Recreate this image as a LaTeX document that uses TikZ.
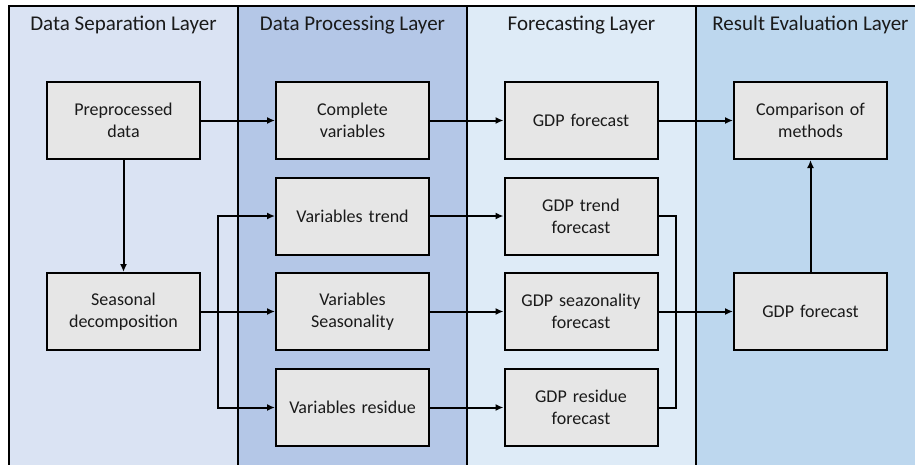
\documentclass[tikz,border=0pt]{standalone}
\usepackage{fontspec}
\setmainfont{Carlito}
\usetikzlibrary{arrows.meta}
\definecolor{colA}{HTML}{DAE3F3}
\definecolor{colB}{HTML}{B4C7E7}
\definecolor{colC}{HTML}{DEEBF7}
\definecolor{colD}{HTML}{BDD7EE}
\definecolor{boxfill}{HTML}{E6E6E6}
\definecolor{txt}{HTML}{1A1A1A}
\tikzset{
  box/.style={draw=black, line width=2pt, fill=boxfill, minimum width=153pt, minimum height=77pt,
    inner sep=0pt, align=center, text width=150pt, font=\fontsize{18}{22}\selectfont, text=txt},
  lane/.style={draw=black, line width=2pt},
  title/.style={font=\fontsize{21}{25}\selectfont, text=txt, anchor=center},
  conn/.style={line width=2pt, -{Latex[length=8pt,width=7pt]}},
  plain/.style={line width=2pt}
}
\begin{document}
\begin{tikzpicture}[x=1pt,y=-1pt]
\useasboundingbox (0,0) rectangle (915,464);
% lanes
\begin{scope}
\clip (0,0) rectangle (915,464);
\fill[colA] (9,6) rectangle (238,470);
\fill[colB] (238,6) rectangle (467,470);
\fill[colC] (467,6) rectangle (696,470);
\fill[colD] (696,6) rectangle (920,470);
\draw[lane] (9,470) -- (9,6) -- (920,6);
\draw[lane] (238,6) -- (238,470);
\draw[lane] (467,6) -- (467,470);
\draw[lane] (696,6) -- (696,470);
\end{scope}
\node[title] (t1) at (123.5,25) {Data Separation Layer};
\node[title] (t2) at (352.5,25) {Data Processing Layer};
\node[title] (t3) at (581.5,25) {Forecasting Layer};
\node[title] (t4) at (810.5,25) {Result Evaluation Layer};
% boxes
\node[box] (pre) at (123.5,120.5) {Preprocessed\\data};
\node[box] (sea) at (123.5,311.5) {Seasonal\\decomposition};
\node[box] (cv) at (352.5,120.5) {Complete\\variables};
\node[box] (vt) at (352.5,216) {Variables trend};
\node[box] (vs) at (352.5,311.5) {Variables\\Seasonality};
\node[box] (vr) at (352.5,407.5) {Variables residue};
\node[box] (gf) at (581,120.5) {GDP forecast};
\node[box] (gt) at (581,216) {GDP trend\\forecast};
\node[box] (gs) at (581,311.5) {GDP seazonality\\forecast};
\node[box] (gr) at (581,407.5) {GDP residue\\forecast};
\node[box] (cm) at (810.5,120.5) {Comparison of\\methods};
\node[box] (gf2) at (810.5,311.5) {GDP forecast};
% connectors
\coordinate (bx) at (218,0);
\coordinate (mx) at (676,0);
\draw[conn] (pre) -- (cv);
\draw[conn] (cv) -- (gf);
\draw[conn] (gf) -- (cm);
\draw[conn] (pre) -- (sea);
\draw[conn] (sea) -- (vs);
\draw[conn] (sea.east -| bx) |- (vt.west);
\draw[conn] (sea.east -| bx) |- (vr.west);
\draw[conn] (vt) -- (gt);
\draw[conn] (vs) -- (gs);
\draw[conn] (vr) -- (gr);
\draw[plain] (gt.east) -| (gs.east -| mx);
\draw[plain] (gr.east) -| (gs.east -| mx);
\draw[conn] (gs) -- (gf2);
\draw[conn] (gf2) -- (cm);
\end{tikzpicture}
\end{document}
